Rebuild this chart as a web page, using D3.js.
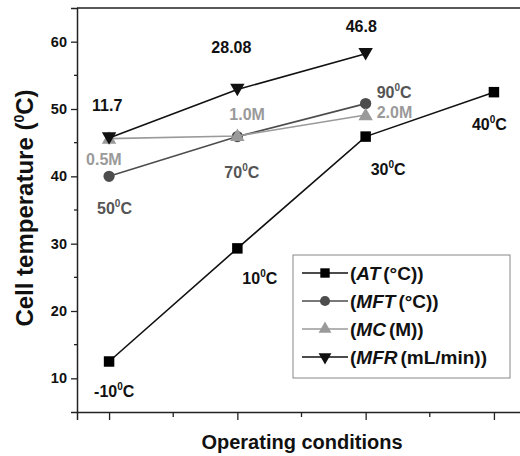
<!DOCTYPE html>
<html>
<head>
<meta charset="utf-8">
<script src="https://cdn.jsdelivr.net/npm/d3@7"></script>
<style>
  body { margin: 0; background: #fff; }
  #vis { width: 520px; height: 456px; }
  text { font-family: "Liberation Sans", Arial, sans-serif; font-weight: bold; }
</style>
</head>
<body>
<div id="vis"></div>
<script>
// operating condition index (1..4)
var conditions = [1, 2, 3, 4];

// cell temperature (°C) for each series
var atValues = [12.5, 29.3, 45.9, 52.5];
var mftValues = [40.0, 45.9, 50.8];
var mcValues = [45.6, 46.0, 49.1];
var mfrValues = [45.7, 52.9, 58.2];

// point labels
var atLabels = ['-10', '10', '30', '40'];
var mftLabels = ['50', '70', '90'];
var mcLabels = ['0.5M', '1.0M', '2.0M'];
var mfrLabels = ['11.7', '28.08', '46.8'];

var yTicks = [10, 20, 30, 40, 50, 60];
var yMinor = [15, 25, 35, 45, 55];
var xMinor = [1.5, 2.5, 3.5];

var width = 520;
var height = 456;

var margin = {
  top: 8,
  bottom: 44,
  left: 77,
  right: -6
};

var svg = d3.select('#vis')
  .append('svg')
  .attr('width', width)
  .attr('height', height);

var plotW = width - margin.left - margin.right;
var plotH = height - margin.top - margin.bottom;

var g = svg.append('g')
  .attr('transform', 'translate(' + margin.left + ',' + margin.top + ')');

var x_scale = d3.scaleLinear()
  .domain([0.75, 4.25])
  .range([0, plotW]);

var y_scale = d3.scaleLinear()
  .domain([5, 65])
  .range([plotH, 0]);

// frame: top line
g.append('line')
  .attr('x1', 0).attr('x2', plotW)
  .attr('y1', 0).attr('y2', 0)
  .attr('stroke', '#222').attr('stroke-width', 1.5);

var y_axis = d3.axisLeft(y_scale)
  .tickValues(yTicks)
  .tickSize(6)
  .tickPadding(4);

var yAxisG = g.append('g')
  .attr('class', 'y axis')
  .attr('font-size', 14.5)
  .call(y_axis);
yAxisG.attr('font-size', 14.5).attr('font-family', null);
yAxisG.select('.domain').attr('stroke', '#222').attr('stroke-width', 1.5);
yAxisG.selectAll('.tick line').attr('stroke', '#222').attr('stroke-width', 1.3);
yAxisG.selectAll('.tick text')
  .style('font-size', '14.5px')
  .attr('fill', '#111');

g.append('g')
  .selectAll('line')
  .data(yMinor)
  .enter()
  .append('line')
  .attr('x1', -3).attr('x2', 0)
  .attr('y1', function(d) { return y_scale(d); })
  .attr('y2', function(d) { return y_scale(d); })
  .attr('stroke', '#222').attr('stroke-width', 1.3);

var x_axis = d3.axisBottom(x_scale)
  .tickValues(conditions)
  .tickSize(8)
  .tickFormat('');

var xAxisG = g.append('g')
  .attr('class', 'x axis')
  .attr('transform', 'translate(0,' + plotH + ')')
  .call(x_axis);
xAxisG.select('.domain').attr('stroke', '#222').attr('stroke-width', 1.5);
xAxisG.selectAll('.tick line').attr('stroke', '#222').attr('stroke-width', 1.3);

xAxisG.selectAll('.minor')
  .data(xMinor)
  .enter()
  .append('line')
  .attr('class', 'minor')
  .attr('x1', function(d) { return x_scale(d); })
  .attr('x2', function(d) { return x_scale(d); })
  .attr('y1', 0).attr('y2', 5)
  .attr('stroke', '#222').attr('stroke-width', 1.3);

// axis titles
svg.append('text')
  .attr('text-anchor', 'middle')
  .attr('x', 302)
  .attr('y', 449)
  .style('font-size', '20px')
  .attr('fill', '#111')
  .text('Operating conditions');

var yTitle = svg.append('text')
  .attr('text-anchor', 'middle')
  .attr('transform', 'translate(33,208)rotate(-90)')
  .style('font-size', '24px')
  .attr('fill', '#111');
yTitle.append('tspan').text('Cell temperature (');
yTitle.append('tspan').attr('dy', -9).style('font-size', '14px').text('0');
yTitle.append('tspan').attr('dy', 9).text('C)');

var series = [
  { name: 'AT', values: atValues, color: '#000', lineColor: '#111', symbol: d3.symbolSquare, size: 110, rotate: 0 },
  { name: 'MFT', values: mftValues, color: '#4d4d4d', lineColor: '#4d4d4d', symbol: d3.symbolCircle, size: 100, rotate: 0 },
  { name: 'MC', values: mcValues, color: '#9a9a9a', lineColor: '#9a9a9a', symbol: d3.symbolTriangle, size: 90, rotate: 0 },
  { name: 'MFR', values: mfrValues, color: '#111', lineColor: '#111', symbol: d3.symbolTriangle, size: 90, rotate: 180 }
];

var line = d3.line()
  .x(function(d, i) { return x_scale(conditions[i]); })
  .y(function(d) { return y_scale(d); });

series.forEach(function(s) {
  g.append('path')
    .datum(s.values)
    .attr('d', line)
    .attr('fill', 'none')
    .attr('stroke', s.lineColor)
    .attr('stroke-width', 1.6);

  g.selectAll('.pt-' + s.name)
    .data(s.values)
    .enter()
    .append('path')
    .attr('class', 'pt-' + s.name)
    .attr('d', d3.symbol().type(s.symbol).size(s.size))
    .attr('transform', function(d, i) {
      var dy = s.rotate ? -1.5 : (s.symbol === d3.symbolTriangle ? 1 : 0);
      return 'translate(' + x_scale(conditions[i]) + ',' + (y_scale(d) + dy) + ')rotate(' + s.rotate + ')';
    })
    .attr('fill', s.color);
});

// point labels: offsets from each point
function addLabels(values, labels, offsets, color, degree) {
  labels.forEach(function(lab, i) {
    var t = g.append('text')
      .attr('x', x_scale(conditions[i]) + offsets[i][0])
      .attr('y', y_scale(values[i]) + offsets[i][1])
      .style('font-size', '16px')
      .attr('fill', color);
    if (degree) {
      t.append('tspan').text(lab);
      t.append('tspan').attr('dy', -7).style('font-size', '10px').text('0');
      t.append('tspan').attr('dy', 7).text('C');
    } else {
      t.text(lab);
    }
  });
}

addLabels(atValues, atLabels, [[-15, 35], [5, 36], [5, 38], [-22, 38]], '#111', true);
addLabels(mftValues, mftLabels, [[-12, 38], [-13, 41], [11, -6]], '#555', true);
addLabels(mcValues, mcLabels, [[-23, 26], [-8, -16], [11, 3]], '#9a9a9a', false);
addLabels(mfrValues, mfrLabels, [[-17, -27], [-26, -36], [-20, -22]], '#111', false);

// legend
var legend = svg.append('g')
  .attr('transform', 'translate(293,255)');

legend.append('rect')
  .attr('x', 0).attr('y', 0)
  .attr('width', 217).attr('height', 123)
  .attr('fill', '#fff')
  .attr('stroke', '#888')
  .attr('stroke-width', 1);

var legendText = [
  ['AT', '(°C))'],
  ['MFT', '(°C))'],
  ['MC', '(M))'],
  ['MFR', '(mL/min))']
];

series.forEach(function(s, i) {
  var cy = 18 + i * 28;
  legend.append('line')
    .attr('x1', 9).attr('x2', 55)
    .attr('y1', cy).attr('y2', cy)
    .attr('stroke', s.lineColor)
    .attr('stroke-width', 1.6);
  legend.append('path')
    .attr('d', d3.symbol().type(s.symbol).size(s.size * 0.8))
    .attr('transform', 'translate(32,' + cy + ')rotate(' + s.rotate + ')')
    .attr('fill', s.color);
  var t = legend.append('text')
    .attr('x', 57)
    .attr('y', cy + 7)
    .style('font-size', '19px')
    .attr('fill', '#111');
  t.append('tspan').text('(');
  t.append('tspan').style('font-style', 'italic').text(legendText[i][0]);
  t.append('tspan').attr('dx', 3).text(legendText[i][1]);
});
</script>
</body>
</html>
